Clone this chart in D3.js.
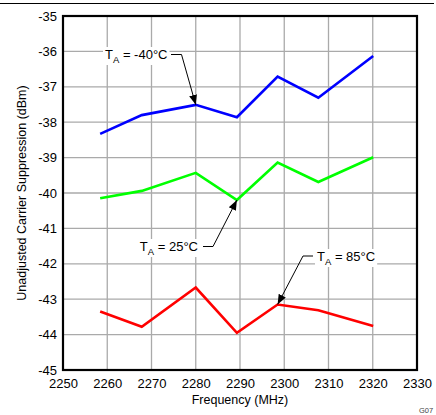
<!DOCTYPE html>
<html><head><meta charset="utf-8">
<script src="https://cdn.jsdelivr.net/npm/d3@7"></script>
<style>body{margin:0;background:#fff;}svg{display:block;font-family:"Liberation Sans",Arial,sans-serif;}</style>
</head><body>
<svg id="c" width="436" height="415"></svg>
<script>
const freqs = [2258.4, 2267.8, 2280, 2289.3, 2298.5, 2307.7, 2320.1];
const blueVals = [-38.33, -37.80, -37.51, -37.86, -36.71, -37.31, -36.13];
const greenVals = [-40.15, -39.94, -39.43, -40.20, -39.14, -39.69, -38.99];
const redVals = [-43.35, -43.78, -42.67, -43.95, -43.15, -43.31, -43.76];
const xTicks = [2250, 2260, 2270, 2280, 2290, 2300, 2310, 2320, 2330];
const yTicks = [-45, -44, -43, -42, -41, -40, -39, -38, -37, -36, -35];
const seriesNames = ["T_A = -40°C", "T_A = 25°C", "T_A = 85°C"];

const svg = d3.select("#c");
const L = 63, R = 417, T = 16, B = 370;
const x = d3.scaleLinear().domain([2250, 2330]).range([L, R]);
const y = d3.scaleLinear().domain([-45, -35]).range([B, T]);

// top rule
svg.append("line").attr("x1", 0).attr("x2", 434).attr("y1", 3.5).attr("y2", 3.5).attr("stroke", "#000").attr("stroke-width", 1.2);

// grid
const g = svg.append("g");
g.selectAll(".vx").data(xTicks.slice(1, -1)).join("line")
  .attr("x1", d => x(d)).attr("x2", d => x(d)).attr("y1", T).attr("y2", B)
  .attr("stroke", "#aaa").attr("stroke-width", 1.3);
g.selectAll(".hy").data(yTicks.slice(1, -1)).join("line")
  .attr("y1", d => y(d)).attr("y2", d => y(d)).attr("x1", L).attr("x2", R)
  .attr("stroke", "#aaa").attr("stroke-width", 1.3);

// axes labels via d3 axes
const xAxis = svg.append("g").attr("transform", `translate(0,${B})`)
  .call(d3.axisBottom(x).tickValues(xTicks).tickFormat(d3.format("d")).tickSize(0).tickPadding(9));
const yAxis = svg.append("g").attr("transform", `translate(${L},0)`)
  .call(d3.axisLeft(y).tickValues(yTicks).tickFormat(d => String(d)).tickSize(0).tickPadding(6));
[xAxis, yAxis].forEach(a => {
  a.select(".domain").remove();
  a.selectAll("text").attr("font-size", 13).attr("fill", "#000").attr("font-family", "Liberation Sans, Arial, sans-serif");
});

// lines
const line = d3.line().x((d, i) => x(freqs[i])).y(d => y(d));
[[blueVals, "#0000ff"], [greenVals, "#00ff00"], [redVals, "#ff0000"]].forEach(([v, c]) => {
  svg.append("path").datum(v).attr("d", line).attr("fill", "none").attr("stroke", c)
    .attr("stroke-width", 2.6).attr("stroke-linejoin", "miter");
});

// frame
svg.append("rect").attr("x", L).attr("y", T).attr("width", R - L).attr("height", B - T)
  .attr("fill", "none").attr("stroke", "#000").attr("stroke-width", 2.2);

// axis titles
svg.append("text").attr("x", 240).attr("y", 404).attr("text-anchor", "middle")
  .attr("font-size", 12.5).text("Frequency (MHz)");
svg.append("text").attr("transform", `translate(26,${(T + B) / 2}) rotate(-90)`).attr("text-anchor", "middle")
  .attr("font-size", 12.5).text("Unadjusted Carrier Suppression (dBm)");

// annotations
svg.append("defs").append("marker").attr("id", "ah").attr("viewBox", "0 0 10 10")
  .attr("refX", 10).attr("refY", 5).attr("markerWidth", 10).attr("markerHeight", 10)
  .attr("markerUnits", "userSpaceOnUse").attr("orient", "auto")
  .append("path").attr("d", "M0,1 L10,5 L0,9 Z").attr("fill", "#000");

function label(tx, ty, anchor, name, pts, tipIdx, vals) {
  const parts = name.split("_");
  const sub = parts[1].split(" ")[0];
  const rest = parts[1].slice(sub.length);
  const grp = svg.append("g");
  const bg = grp.append("rect").attr("fill", "#fff");
  const t = grp.append("text").attr("x", tx).attr("y", ty).attr("font-size", 13).attr("text-anchor", anchor);
  t.append("tspan").text(parts[0]);
  t.append("tspan").attr("font-size", 9.5).attr("dy", 4).text(sub);
  t.append("tspan").attr("dy", -4).text(rest);
  const bb = t.node().getBBox();
  bg.attr("x", bb.x - 2).attr("y", bb.y).attr("width", bb.width + 4).attr("height", bb.height);
  const tip = [x(freqs[tipIdx]), y(vals[tipIdx])];
  const p = pts.concat([tip]);
  grp.append("path").attr("d", d3.line()(p)).attr("fill", "none").attr("stroke", "#000")
    .attr("stroke-width", 1).attr("marker-end", "url(#ah)");
}
label(105, 59, "start", seriesNames[0], [[171, 54.5], [181.5, 54.5]], 2, blueVals);
label(198, 251, "end", seriesNames[1], [[203, 246.5], [213, 246.5]], 3, greenVals);
label(317, 261, "start", seriesNames[2], [[313, 256], [303, 256]], 4, redVals);

svg.append("text").attr("x", 419).attr("y", 413).attr("font-size", 7.5).attr("fill", "#444").text("G07");
</script>
</body></html>
